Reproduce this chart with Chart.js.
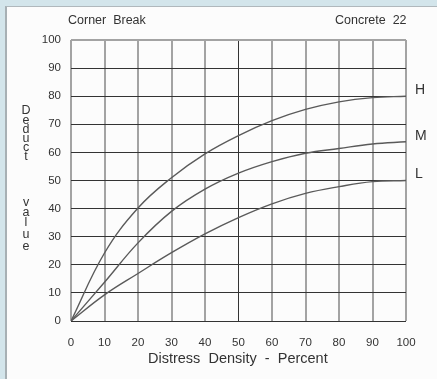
<!DOCTYPE html>
<html>
<head>
<meta charset="utf-8">
<script src="https://cdn.jsdelivr.net/npm/chart.js@4/dist/chart.umd.min.js"></script>
<style>
  html, body { margin: 0; padding: 0; }
  body { width: 437px; height: 379px; background: #d3e5eb; position: relative; overflow: hidden;
         font-family: "Liberation Sans", Arial, sans-serif; color: #333; }
  #frame { position: absolute; left: 5px; top: 6px; width: 432px; height: 373px;
           background: #fcfcfc; border-left: 2px solid #a7b0b4; border-top: 1px solid #b0b8bc; box-sizing: border-box; }
  #wrap { position: absolute; left: 0; top: 0; width: 437px; height: 379px; }
  .t { position: absolute; white-space: pre; line-height: 1; }
</style>
</head>
<body>
<div id="frame"></div>
<div id="wrap"><canvas id="c" width="437" height="379"></canvas></div>
<div class="t" style="left:68px; top:14px; font-size:12.5px;">Corner  Break</div>
<div class="t" style="left:335px; top:14px; font-size:12.5px;">Concrete  22</div>
<div class="t" style="left:148px; top:351px; font-size:14.5px;">Distress  Density  -  Percent</div>
<div id="ytitle"></div>
<script>
const xValues = [0, 10, 20, 30, 40, 50, 60, 70, 80, 90, 100];
const highValues = [0, 24.2, 40.2, 51, 59.5, 66, 71.3, 75.3, 78, 79.5, 80];
const mediumValues = [0, 13.8, 27.8, 39, 46.9, 52.6, 56.7, 59.7, 61.4, 63, 63.8];
const lowValues = [0, 9.3, 16.9, 24.3, 31, 36.8, 41.7, 45.4, 47.8, 49.6, 50];
const seriesLabels = ['H', 'M', 'L'];
const yTitleLetters = ['D','e','d','u','c','t','v','a','l','u','e'];
const yTitleTops = [104, 114, 123, 132, 141, 150, 196, 206, 216, 228, 240];

const yt = document.getElementById('ytitle');
yTitleLetters.forEach((ch, i) => {
  const d = document.createElement('div');
  d.className = 't';
  d.style.cssText = 'left:20px;width:12px;text-align:center;font-size:12.5px;top:' + yTitleTops[i] + 'px;';
  d.textContent = ch;
  yt.appendChild(d);
});

const mk = (arr) => xValues.map((x, i) => ({ x: x, y: arr[i] }));

const endLabels = {
  id: 'endLabels',
  afterDatasetsDraw(chart) {
    const ctx = chart.ctx;
    const xs = chart.scales.x, ys = chart.scales.y;
    ctx.save();
    ctx.font = '14px "Liberation Sans", Arial, sans-serif';
    ctx.fillStyle = '#333';
    ctx.textAlign = 'left';
    ctx.textBaseline = 'middle';
    chart.data.datasets.forEach((ds) => {
      const last = ds.data[ds.data.length - 1];
      ctx.fillText(ds.label, xs.getPixelForValue(last.x) + 9, ys.getPixelForValue(last.y) - 6);
    });
    ctx.restore();
  }
};

const lineStyle = { borderColor: '#5a5a5a', borderWidth: 1.4, pointRadius: 0, fill: false, tension: 0.4 };

new Chart(document.getElementById('c'), {
  type: 'line',
  data: {
    datasets: [
      Object.assign({ label: seriesLabels[0], data: mk(highValues) }, lineStyle),
      Object.assign({ label: seriesLabels[1], data: mk(mediumValues) }, lineStyle),
      Object.assign({ label: seriesLabels[2], data: mk(lowValues) }, lineStyle)
    ]
  },
  options: {
    responsive: false,
    animation: false,
    events: [],
    layout: { padding: { left: 0, top: 40, right: 31, bottom: 0 } },
    plugins: { legend: { display: false }, tooltip: { enabled: false }, title: { display: false } },
    scales: {
      x: {
        type: 'linear', min: 0, max: 100,
        afterFit: (s) => { s.height = 58; },
        border: { display: false },
        grid: {
          drawTicks: false,
          color: (c) => c.tick && c.tick.value === 50 ? '#333' : '#a3a3a3',
          lineWidth: (c) => c.tick && c.tick.value === 50 ? 1 : 2
        },
        ticks: { stepSize: 10, padding: 15, color: '#333', maxRotation: 0,
                 font: { family: '"Liberation Sans", Arial, sans-serif', size: 11.5 } }
      },
      y: {
        type: 'linear', min: 0, max: 100,
        afterFit: (s) => { s.width = 71; },
        border: { display: false },
        grid: {
          drawTicks: false,
          color: (c) => c.tick && c.tick.value === 100 ? '#a3a3a3' : '#333',
          lineWidth: (c) => c.tick && c.tick.value === 100 ? 2 : 1
        },
        ticks: { stepSize: 10, padding: 10, color: '#333',
                 font: { family: '"Liberation Sans", Arial, sans-serif', size: 11.5 } }
      }
    }
  },
  plugins: [endLabels]
});
</script>
</body>
</html>
